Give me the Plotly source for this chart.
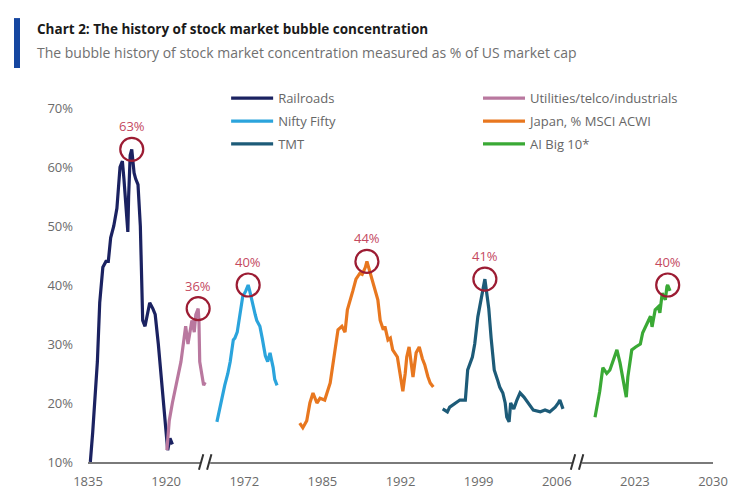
import plotly.graph_objects as go

# Broken time axis: each labelled date sits 10 axis units apart
tick_pos = [0, 10, 20, 30, 40, 50, 60, 70, 80]
tick_labels = ["1835", "1920", "1972", "1985", "1992", "1999", "2006", "2023", "2030"]
break_pos = [15.0, 62.6]

rail_x = [0.3, 0.6, 1.2, 1.5, 1.9, 2.3, 2.6, 2.9, 3.3, 3.7, 4.1, 4.4, 4.6, 4.9, 5.1, 5.2, 5.4, 5.6,
          5.9, 6.1, 6.4, 6.7, 6.9, 7.0, 7.3, 7.6, 7.9, 8.3, 8.6, 9.0, 9.3, 9.7, 10.0, 10.2, 10.5, 10.8]
rail_y = [10, 15, 27, 37, 43, 44, 44, 48, 50, 53, 60, 61, 58, 52, 49, 55, 62, 63,
          59, 58, 57, 50, 42, 34, 33, 35, 37, 36, 35, 30, 25, 19, 15, 12, 14, 13]

util_x = [10.1, 10.4, 10.8, 11.1, 11.5, 11.9, 12.3, 12.5, 12.8, 13.1, 13.3, 13.6, 13.8, 14.1,
          14.2, 14.3, 14.6, 14.8, 15.0]
util_y = [12, 17, 20, 22, 24, 27, 31, 33, 30, 33, 34, 32, 35, 36, 34, 27, 25, 23, 23.5]

nifty_x = [16.5, 17.0, 17.5, 17.9, 18.2, 18.6, 18.8, 19.1, 19.5, 19.8, 20.2, 20.5, 20.7, 21.0,
           21.4, 21.6, 22.0, 22.3, 22.7, 23.0, 23.3, 23.7, 23.9, 24.2]
nifty_y = [16.8, 20, 23, 25, 27, 30.7, 31, 32, 35, 38, 39, 40, 39, 37,
           35, 34, 33, 31, 28, 27, 28.5, 26, 24, 23]

japan_x = [27.1, 27.5, 28.0, 28.4, 28.8, 29.3, 29.7, 30.3, 31.0, 31.4, 31.7, 32.0, 32.5, 32.9,
           33.2, 33.5, 33.9, 34.3, 34.8, 35.1, 35.5, 35.7, 36.1, 36.5, 36.7, 37.1, 37.4, 37.8,
           38.0, 38.4, 38.7, 39.0, 39.6, 39.9, 40.3, 40.6, 40.8, 41.1, 41.3, 41.6, 42.0, 42.4,
           42.8, 43.1, 43.5, 43.8, 44.2]
japan_y = [16.6, 15.8, 17, 20, 21.7, 20, 20.8, 20.5, 23.4, 27.3, 30, 32.4, 33, 32,
           35.8, 37, 39, 41, 42, 41.8, 43, 44, 42, 40, 39.5, 37.5, 34, 32.4,
           33, 30.7, 31, 29, 27.8, 25, 22, 25, 27.8, 29.5, 27, 24.4, 28.5, 29.5,
           27.5, 26.5, 24.5, 23.4, 22.7]

tmt_x = [45.4, 46.0, 46.3, 47.0, 47.6, 48.3, 48.6, 49.2, 49.5, 49.9, 50.2, 50.6, 50.8, 51.1,
         51.3, 51.6, 52.0, 52.4, 52.7, 53.1, 53.4, 53.6, 53.9, 54.1, 54.5, 54.9, 55.3, 55.8,
         56.3, 57.0, 57.9, 58.5, 59.1, 59.8, 60.2, 60.4, 60.8]
tmt_y = [19, 18.5, 19.3, 20, 20.5, 20.5, 25.6, 27.8, 30, 34.6, 37, 39.7, 41, 38,
         36, 31, 25.6, 24, 22.7, 21.7, 20, 17.6, 16.8, 20, 19, 20.5, 21.7, 21,
         20, 18.8, 18.5, 18.8, 18.5, 19.3, 20, 20.5, 19]

ai_x = [64.9, 65.5, 65.9, 66.4, 66.8, 67.2, 67.7, 68.1, 68.5, 68.9, 69.1, 69.6, 70.1, 70.7,
        71.0, 71.6, 72.0, 72.2, 72.6, 73.0, 73.2, 73.5, 73.9, 74.1, 74.2, 74.5]
ai_y = [17.6, 22, 26, 25, 25.6, 27.3, 29, 26.8, 24, 21, 24.4, 29, 29.5, 30,
        31.9, 33.6, 34.7, 32.9, 35.8, 36.3, 35.3, 38.6, 37.5, 39.7, 40, 39]

series = [
    ("Railroads", rail_x, rail_y, "#1b2261", "legend"),
    ("Utilities/telco/industrials", util_x, util_y, "#b9789f", "legend2"),
    ("Nifty Fifty", nifty_x, nifty_y, "#2ba4dc", "legend"),
    ("Japan, % MSCI ACWI", japan_x, japan_y, "#e8771f", "legend2"),
    ("TMT", tmt_x, tmt_y, "#1d5b78", "legend"),
    ("AI Big 10*", ai_x, ai_y, "#3aa935", "legend2"),
]

FONT = "Open Sans"
RING = "#9c1c33"
PEAK_TXT = "#c4495f"

fig = go.Figure()
annotations = []
for name, xs, ys, color, leg in series:
    fig.add_trace(go.Scatter(
        x=xs, y=ys, mode="lines", name=name, legend=leg, legendgroup=name,
        line=dict(color=color, width=3.2), cliponaxis=False,
    ))

# Ring and value label at each bubble peak
for name, xs, ys, color, leg in series:
    i = max(range(len(ys)), key=lambda k: ys[k])
    fig.add_trace(go.Scatter(
        x=[xs[i]], y=[ys[i]], mode="markers", showlegend=False, hoverinfo="skip",
        marker=dict(symbol="circle-open", size=23, line=dict(color=RING, width=2.2), color=RING),
        cliponaxis=False,
    ))
    annotations.append(dict(
        x=xs[i], y=ys[i], xref="x", yref="y", text=f"{ys[i]:.0f}%", showarrow=False,
        yshift=23, font=dict(family=FONT, size=13, color=PEAK_TXT),
    ))

# Header
annotations.append(dict(
    x=-0.085, y=1.222, xref="paper", yref="paper", xanchor="left", yanchor="middle",
    text="<b>Chart 2: The history of stock market bubble concentration</b>", showarrow=False,
    font=dict(family=FONT, size=13.5, color="#1a1a1a"),
))
annotations.append(dict(
    x=-0.085, y=1.158, xref="paper", yref="paper", xanchor="left", yanchor="middle",
    text="The bubble history of stock market concentration measured as % of US market cap",
    showarrow=False, font=dict(family=FONT, size=14, color="#707070"),
))

shapes = [dict(type="rect", xref="paper", yref="paper", x0=-0.1184, x1=-0.1088, y0=1.113, y1=1.254,
               fillcolor="#1546a0", line=dict(width=0), layer="above")]

# Axis break markers "//"
for b in break_pos:
    p = b / 80
    shapes.append(dict(type="rect", xref="paper", yref="paper", x0=p - 0.008, x1=p + 0.008,
                       y0=-0.012, y1=0.012, fillcolor="white", line=dict(width=0), layer="above"))
    for off in (-0.0065, 0.0065):
        shapes.append(dict(type="line", xref="paper", yref="paper",
                           x0=p + off - 0.0035, x1=p + off + 0.0035, y0=-0.022, y1=0.022,
                           line=dict(color="#333333", width=2), layer="above"))

legend_common = dict(
    xanchor="left", yanchor="top", bgcolor="rgba(0,0,0,0)", traceorder="grouped",
    tracegroupgap=3, itemwidth=42, font=dict(family=FONT, size=13, color="#666666"),
)

fig.update_layout(
    width=730, height=493,
    margin=dict(l=88, r=17, t=108, b=31, autoexpand=False),
    paper_bgcolor="white", plot_bgcolor="white",
    showlegend=True,
    legend=dict(x=0.221, y=1.070, **legend_common),
    legend2=dict(x=0.624, y=1.070, **legend_common),
    xaxis=dict(
        range=[0, 80], tickvals=tick_pos, ticktext=tick_labels, showgrid=False, zeroline=False,
        showline=True, linecolor="#7a7a7a", linewidth=1.5, ticks="", ticklabelstandoff=7,
        automargin=False, tickfont=dict(family=FONT, size=13, color="#6b6b6b"),
    ),
    yaxis=dict(
        range=[10, 70], tickvals=[10, 20, 30, 40, 50, 60, 70],
        ticktext=["10%", "20%", "30%", "40%", "50%", "60%", "70%"],
        showgrid=False, zeroline=False, showline=False, ticks="", ticklabelstandoff=14,
        automargin=False, tickfont=dict(family=FONT, size=13, color="#6b6b6b"),
    ),
    annotations=annotations,
    shapes=shapes,
)

fig.write_html("out.html")
